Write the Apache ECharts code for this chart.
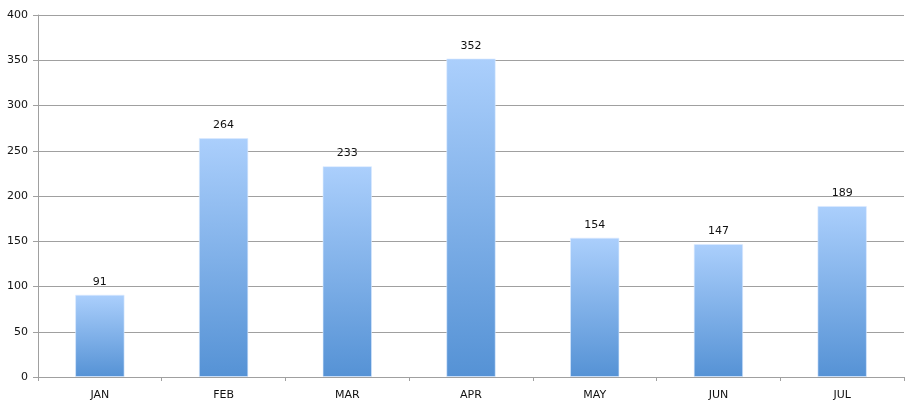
<!DOCTYPE html>
<html>
<head>
<meta charset="utf-8">
<script src="https://cdn.jsdelivr.net/npm/echarts@6/dist/echarts.min.js"></script>
<style>
html,body{margin:0;padding:0;background:#fff;}
#chart{width:912px;height:407px;}
</style>
</head>
<body>
<div id="chart"></div>
<script>
var categories = ['JAN', 'FEB', 'MAR', 'APR', 'MAY', 'JUN', 'JUL'];
var values = [91, 264, 233, 352, 154, 147, 189];
var yTicks = [0, 50, 100, 150, 200, 250, 300, 350, 400];

var chart = echarts.init(document.getElementById('chart'));
var font = 'DejaVu Sans';
chart.setOption({
  animation: false,
  grid: { left: 38, right: 8, top: 15, bottom: 30, containLabel: false },
  xAxis: {
    type: 'category',
    data: categories,
    boundaryGap: true,
    axisLine: { lineStyle: { color: '#a0a0a0', width: 1 } },
    axisTick: { show: true, alignWithLabel: false, length: 4, lineStyle: { color: '#a0a0a0' } },
    axisLabel: { color: '#111', fontFamily: font, fontSize: 11, margin: 13 },
    splitLine: { show: false }
  },
  yAxis: {
    type: 'value',
    min: yTicks[0],
    max: yTicks[yTicks.length - 1],
    interval: 50,
    axisLine: { show: true, lineStyle: { color: '#a0a0a0', width: 1 } },
    axisTick: { show: true, length: 5, lineStyle: { color: '#a0a0a0' } },
    axisLabel: { color: '#111', fontFamily: font, fontSize: 11, margin: 10 },
    splitLine: { show: true, lineStyle: { color: '#a0a0a0', width: 1 } }
  },
  series: [{
    type: 'bar',
    data: values,
    barWidth: '40%',
    itemStyle: {
      color: new echarts.graphic.LinearGradient(0, 0, 0, 1, [
        { offset: 0, color: '#abcffc' },
        { offset: 1, color: '#5592d5' }
      ]),
      borderColor: 'rgba(220,235,255,0.6)',
      borderWidth: 1
    },
    label: {
      show: true,
      position: 'top',
      distance: 7,
      color: '#111',
      fontFamily: font,
      fontSize: 11
    }
  }]
});
</script>
</body>
</html>
